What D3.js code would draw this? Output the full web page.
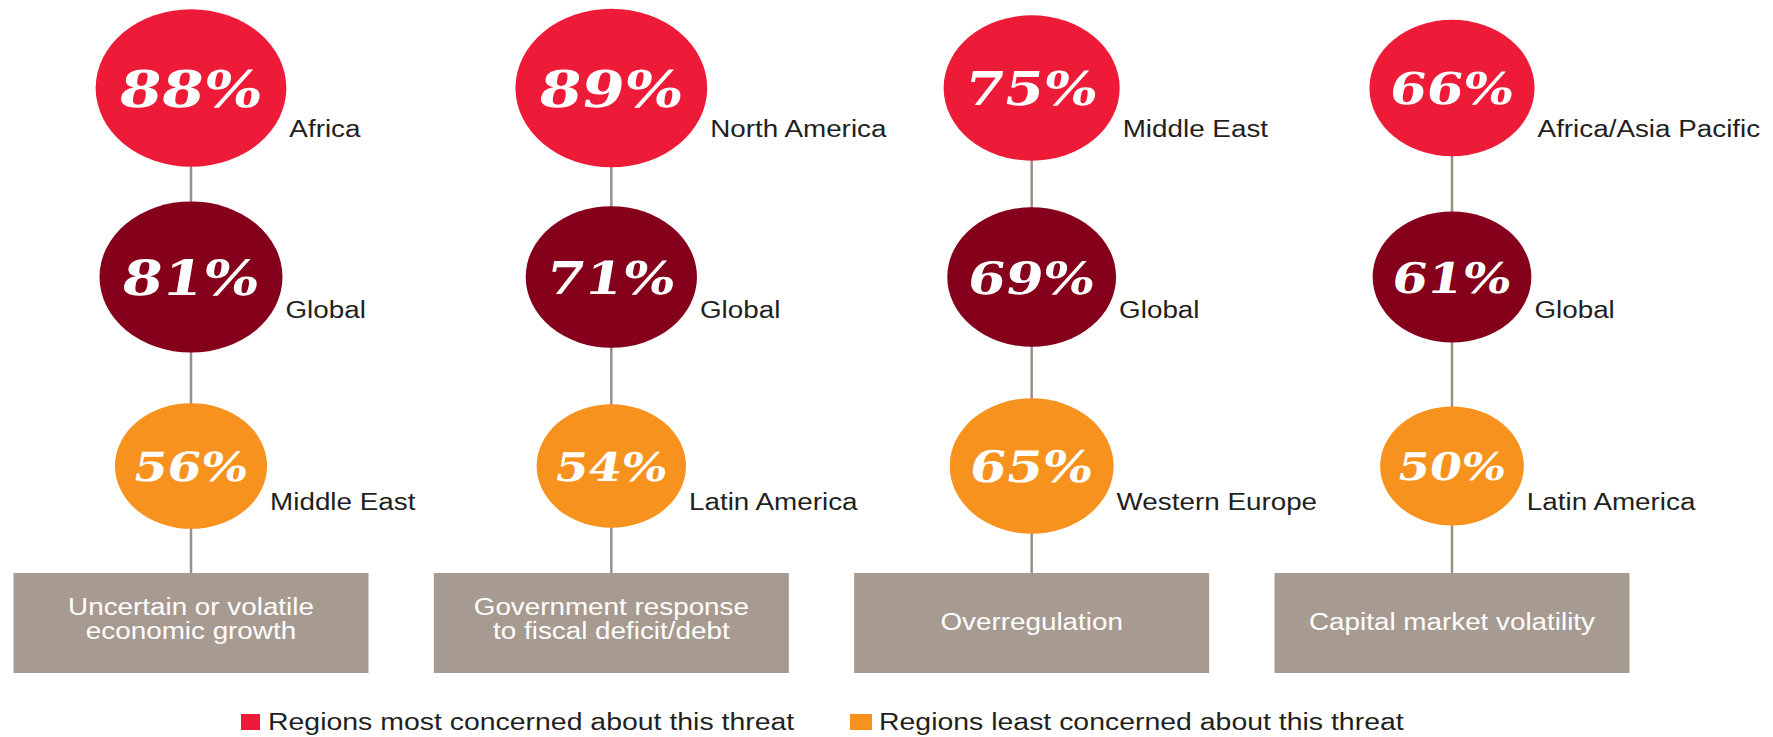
<!DOCTYPE html>
<html>
<head>
<meta charset="utf-8">
<script src="https://cdn.jsdelivr.net/npm/d3@7"></script>
<style>
  html, body { margin: 0; padding: 0; background: #fff; }
  svg { display: block; }
</style>
</head>
<body>
<div id="chart"></div>
<script>
// data
const threatLines = [
  ["Uncertain or volatile", "economic growth"],
  ["Government response", "to fiscal deficit/debt"],
  ["Overregulation"],
  ["Capital market volatility"]
];
const mostValues = [88, 89, 75, 66];
const mostRegions = ["Africa", "North America", "Middle East", "Africa/Asia Pacific"];
const globalValues = [81, 71, 69, 61];
const globalRegions = ["Global", "Global", "Global", "Global"];
const leastValues = [56, 54, 65, 50];
const leastRegions = ["Middle East", "Latin America", "Western Europe", "Latin America"];
const legendLabels = ["Regions most concerned about this threat", "Regions least concerned about this threat"];

const W = 1773, H = 737;
const sx = 1.21; // source picture is stretched horizontally
const colors = { most: "#ed1b38", global: "#85001b", least: "#f7921e" };
const boxColor = "#a79a91", lineColor = "#9d8e85";

const svg = d3.select("#chart").append("svg").attr("width", W).attr("height", H);

const x = d3.scalePoint().domain(d3.range(threatLines.length)).range([191, 1452]);
const y = d3.scalePoint().domain(["most", "global", "least"]).range([88, 466]);
const r = d3.scaleSqrt().domain([0, 100]).range([0, 84]);
const labelDy = { most: 49, global: 41, least: 44 };
const boxTop = 573, boxH = 100, boxW = 355;

const rows = [
  { key: "most", values: mostValues, regions: mostRegions },
  { key: "global", values: globalValues, regions: globalRegions },
  { key: "least", values: leastValues, regions: leastRegions }
];

// connector lines
svg.append("g").selectAll("line")
  .data(threatLines)
  .join("line")
  .attr("x1", (d, i) => x(i)).attr("x2", (d, i) => x(i))
  .attr("y1", y("most")).attr("y2", boxTop)
  .attr("stroke", lineColor).attr("stroke-width", 2.5);

// boxes
const box = svg.append("g").selectAll("g")
  .data(threatLines)
  .join("g")
  .attr("transform", (d, i) => `translate(${x(i)},${boxTop})`);
box.append("rect")
  .attr("x", -boxW / 2).attr("width", boxW).attr("height", boxH)
  .attr("fill", boxColor);
box.each(function (lines) {
  const n = lines.length;
  d3.select(this).selectAll("text")
    .data(lines)
    .join("text")
    .attr("transform", (l, j) => `translate(0,${boxH / 2 + 7 - (n - 1) * 15 + j * 24}) scale(${sx},1)`)
    .attr("text-anchor", "middle")
    .style("font-family", "'Liberation Sans', Arial, sans-serif")
    .style("font-size", "23px")
    .attr("fill", "#fff")
    .text(l => l);
});

// bubbles
rows.forEach(row => {
  const g = svg.append("g").selectAll("g")
    .data(row.values)
    .join("g")
    .attr("transform", (v, i) => `translate(${x(i)},${y(row.key)})`);

  g.append("ellipse")
    .attr("rx", v => r(v) * sx).attr("ry", v => r(v))
    .attr("fill", colors[row.key]);

  g.append("text")
    .attr("transform", `scale(${sx},1) skewX(-8)`)
    .attr("text-anchor", "middle")
    .attr("dy", "0.37em")
    .style("font-family", "'DejaVu Serif', Georgia, serif")
    .style("font-weight", "bold")
    .style("font-size", v => (r(v) * 0.64) + "px")
    .attr("fill", "#fff")
    .text(v => v + "%");

  g.append("text")
    .attr("transform", v => `translate(${r(v) * sx + 3},${labelDy[row.key]}) scale(${sx},1)`)
    .style("font-family", "'Liberation Sans', Arial, sans-serif")
    .style("font-size", "23px")
    .attr("fill", "#231f20")
    .text((v, i) => row.regions[i]);
});

// legend
const legendX = [241, 850];
const legend = svg.append("g").selectAll("g")
  .data(legendLabels)
  .join("g")
  .attr("transform", (d, i) => `translate(${legendX[i]},714)`);
legend.append("rect")
  .attr("width", (d, i) => i ? 22 : 19).attr("height", 16)
  .attr("fill", (d, i) => i ? colors.least : colors.most);
legend.append("text")
  .attr("transform", (d, i) => `translate(${i ? 29 : 27},16) scale(${sx},1)`)
  .style("font-family", "'Liberation Sans', Arial, sans-serif")
  .style("font-size", "23.5px")
  .attr("fill", "#231f20")
  .text(d => d);
</script>
</body>
</html>
